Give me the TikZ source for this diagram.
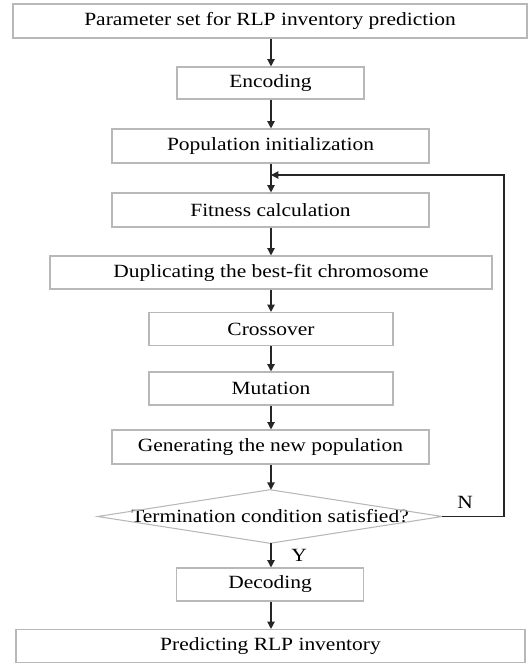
\documentclass[tikz,border=0pt]{standalone}
\usepackage{fontspec}
\setmainfont{Liberation Serif}[FakeStretch=1.15]
\usetikzlibrary{arrows.meta}
\begin{document}
\begin{tikzpicture}[x=0.75pt,y=-0.75pt,
  txt/.style={font=\fontsize{14}{16}\selectfont},
  box/.style 2 args={txt, draw=black!28, line width=0.8pt, rectangle, inner sep=0pt,
    minimum width=#1*0.75pt, minimum height=#2*0.75pt},
  area/.style 2 args={txt, rectangle, inner sep=0pt,
    minimum width=#1*0.75pt, minimum height=#2*0.75pt},
  diaedge/.style={draw=black!28, line width=0.8pt},
  arr/.style={draw=black!85, line width=0.9pt, -{Triangle[length=5.5pt,width=5.5pt]}},
  lbl/.style={txt, inner sep=0pt}]
\useasboundingbox (0,0) rectangle (528,665);
\node[box={514}{34}] (top) at (270,21) {Parameter set for RLP inventory prediction};
\node[box={187}{32}] (enc) at (270.5,83) {Encoding};
\node[box={317}{34}] (pop) at (270.5,146) {Population initialization};
\node[box={317}{34}] (fit) at (270.5,210) {Fitness calculation};
\node[box={442}{33}] (dup) at (271,272.5) {Duplicating the best-fit chromosome};
\node[box={244}{33}] (cross) at (271,329) {Crossover};
\node[box={244}{33}] (mut) at (271,388.5) {Mutation};
\node[box={317}{34}] (gen) at (270.5,447) {Generating the new population};
\node[area={344}{53}] (term) at (270,516.5) {Termination condition satisfied?};
\draw[diaedge] (term.north) -- (term.east) -- (term.south) -- (term.west) -- cycle;
\node[box={187}{33}] (dec) at (270,584.5) {Decoding};
\node[box={509}{33}] (pred) at (270.5,646) {Predicting RLP inventory};
\coordinate (merge) at (271,175);
\coordinate (cR) at (504,516.5);
\coordinate (cT) at (504,175);
\draw[arr] (top.south -| 271,0) -- (enc.north -| 271,0);
\draw[arr] (enc.south -| 271,0) -- (pop.north -| 271,0);
\draw[arr] (pop.south -| 271,0) -- (fit.north -| 271,0);
\draw[arr] (fit.south -| 271,0) -- (dup.north -| 271,0);
\draw[arr] (dup.south -| 271,0) -- (cross.north -| 271,0);
\draw[arr] (cross.south -| 271,0) -- (mut.north -| 271,0);
\draw[arr] (mut.south -| 271,0) -- (gen.north -| 271,0);
\draw[arr] (gen.south -| 271,0) -- (term.north -| 271,0);
\draw[arr] (term.south -| 271,0) -- (dec.north -| 271,0);
\draw[arr] (dec.south -| 271,0) -- (pred.north -| 271,0);
\draw[arr] (term.east) -- (cR) -- (cT) -- (merge);
\node[lbl] (nlab) at (465,502) {N};
\node[lbl] (ylab) at (299,555) {Y};
\end{tikzpicture}
\end{document}
